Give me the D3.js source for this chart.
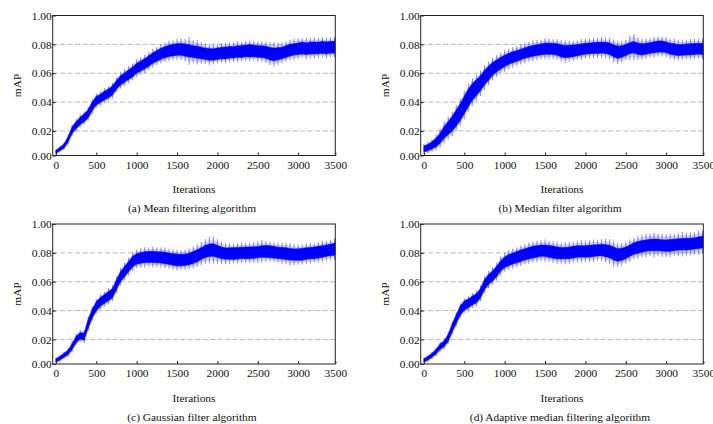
<!DOCTYPE html>
<html>
<head>
<meta charset="utf-8">
<script src="https://cdn.jsdelivr.net/npm/d3@7"></script>
<style>
body { margin: 0; background: #fff; }
text { font-family: "Liberation Serif", "Times New Roman", serif; font-size: 11.4px; fill: #111; }
</style>
</head>
<body>
<script>
// sample grid: every 50 iterations, 0..3500
var iterations = d3.range(0, 3501, 50);

var xTicks = [0, 500, 1000, 1500, 2000, 2500, 3000, 3500];
var yTicks = [0.003, 0.02, 0.04, 0.06, 0.08, 0.1];
var yTickLabels = ["0.00", "0.02", "0.04", "0.06", "0.08", "1.00"];
var gridValues = [0.02, 0.04, 0.06, 0.08];

// (a) mean filtering: centre of band, half width of dark core, half width of spikes
var meanMid = [0.0055,0.0075,0.0095,0.014,0.0205,0.024,0.027,0.029,0.032,0.037,
  0.041,0.0425,0.0445,0.046,0.048,0.052,0.055,0.057,0.059,0.061,
  0.0635,0.065,0.0665,0.0685,0.0705,0.072,0.0735,0.0745,0.0755,0.076,
  0.0765,0.0765,0.076,0.0755,0.075,0.0745,0.074,0.0735,0.073,0.073,
  0.0735,0.074,0.074,0.0745,0.0745,0.075,0.075,0.0755,0.0755,0.0755,
  0.075,0.075,0.0745,0.0735,0.073,0.0735,0.074,0.075,0.076,0.0765,
  0.077,0.0775,0.077,0.0775,0.0775,0.0775,0.078,0.0775,0.078,0.078,
  0.0785];
var meanCore = [0.0012,0.0012,0.0014,0.0018,0.0022,0.0024,0.0025,0.0027,0.0028,0.003,
  0.003,0.0028,0.003,0.003,0.0031,0.003,0.0032,0.0032,0.0033,0.0034,
  0.0034,0.0035,0.0035,0.0036,0.0036,0.0037,0.0038,0.0038,0.0039,0.004,
  0.004,0.0041,0.0042,0.0043,0.0041,0.0042,0.004,0.0039,0.004,0.004,
  0.0039,0.004,0.0041,0.004,0.0039,0.004,0.0041,0.004,0.0042,0.0041,
  0.004,0.0041,0.0042,0.0043,0.0044,0.0042,0.004,0.0041,0.004,0.0039,
  0.004,0.0041,0.004,0.0042,0.0041,0.004,0.0041,0.0042,0.004,0.0041,
  0.004];
var meanNoise = [0.0018,0.002,0.0025,0.0035,0.004,0.0042,0.0045,0.0045,0.0048,0.005,
  0.0048,0.005,0.0052,0.005,0.0055,0.0052,0.0056,0.0058,0.006,0.0058,
  0.0062,0.006,0.0064,0.0062,0.0066,0.0064,0.0068,0.0066,0.007,0.0068,
  0.0072,0.0075,0.0078,0.0095,0.008,0.0085,0.0075,0.007,0.0072,0.0068,
  0.0066,0.0068,0.007,0.0066,0.0068,0.0072,0.0068,0.007,0.0072,0.0068,
  0.007,0.0072,0.0075,0.008,0.0085,0.0078,0.0072,0.007,0.0072,0.0075,
  0.0072,0.0068,0.0075,0.007,0.0072,0.0068,0.007,0.0072,0.0068,0.007,
  0.0068];

// (b) median filter
var medianMid = [0.0075,0.0085,0.010,0.012,0.015,0.019,0.022,0.025,0.029,0.033,
  0.038,0.043,0.047,0.050,0.053,0.057,0.060,0.063,0.065,0.067,
  0.0685,0.070,0.071,0.072,0.073,0.074,0.0748,0.0755,0.076,0.0765,
  0.077,0.077,0.0768,0.0765,0.0755,0.075,0.0752,0.0755,0.076,0.0765,
  0.077,0.0772,0.0775,0.0775,0.0778,0.0775,0.077,0.0755,0.0745,0.075,
  0.076,0.0775,0.078,0.077,0.0765,0.077,0.0775,0.078,0.0785,0.0785,
  0.078,0.077,0.0765,0.076,0.0762,0.0765,0.0765,0.0768,0.077,0.0768,
  0.0768];
var medianCore = [0.002,0.0022,0.0025,0.003,0.0035,0.004,0.0045,0.005,0.0055,0.0058,
  0.006,0.006,0.0058,0.0055,0.0052,0.005,0.0048,0.0045,0.0042,0.004,
  0.004,0.0038,0.0038,0.0037,0.0037,0.0036,0.0037,0.0038,0.0037,0.0038,
  0.0039,0.0038,0.0039,0.004,0.0042,0.0043,0.0042,0.004,0.0039,0.0038,
  0.0038,0.0037,0.0038,0.0039,0.0038,0.0039,0.004,0.0042,0.0043,0.004,
  0.0039,0.0038,0.0039,0.004,0.0039,0.0038,0.0037,0.0038,0.0039,0.0038,
  0.0037,0.0038,0.0039,0.0038,0.0037,0.0038,0.0039,0.0038,0.0037,0.0038,
  0.0038];
var medianNoise = [0.0035,0.004,0.0045,0.0055,0.0065,0.0075,0.008,0.0085,0.009,0.0095,
  0.01,0.0098,0.0095,0.009,0.0088,0.0085,0.008,0.0078,0.0075,0.0072,
  0.0075,0.007,0.0072,0.0068,0.007,0.0072,0.0068,0.0072,0.007,0.0068,
  0.0072,0.007,0.0068,0.0072,0.0075,0.0078,0.0072,0.007,0.0068,0.0072,
  0.007,0.0068,0.0072,0.007,0.0074,0.0072,0.0075,0.0078,0.0082,0.0075,
  0.0072,0.0085,0.009,0.0078,0.0072,0.007,0.0068,0.0072,0.007,0.0068,
  0.007,0.0072,0.0075,0.0072,0.007,0.0068,0.0072,0.007,0.0068,0.007,
  0.0072];

// (c) gaussian filter
var gaussMid = [0.0055,0.007,0.009,0.011,0.015,0.020,0.0225,0.022,0.031,0.038,
  0.043,0.046,0.048,0.050,0.052,0.058,0.0635,0.067,0.0705,0.074,
  0.0758,0.0765,0.077,0.0772,0.0772,0.077,0.0768,0.0765,0.076,0.0755,
  0.075,0.075,0.0752,0.0758,0.0768,0.078,0.0795,0.081,0.0818,0.082,
  0.081,0.080,0.0795,0.0795,0.0795,0.0798,0.080,0.080,0.080,0.0802,
  0.0805,0.081,0.081,0.0808,0.0805,0.080,0.0798,0.0795,0.079,0.0788,
  0.0788,0.079,0.0795,0.0798,0.080,0.0805,0.081,0.0815,0.082,0.0825,
  0.083];
var gaussCore = [0.0012,0.0013,0.0014,0.0016,0.002,0.0022,0.0022,0.0025,0.003,0.003,
  0.0032,0.003,0.003,0.0032,0.0032,0.0033,0.0034,0.0035,0.0035,0.0036,
  0.0036,0.0037,0.0038,0.0038,0.0039,0.0038,0.0039,0.004,0.0039,0.004,
  0.0041,0.004,0.0039,0.004,0.0041,0.0042,0.0041,0.0042,0.0043,0.0044,
  0.0042,0.004,0.0039,0.004,0.0041,0.004,0.0039,0.004,0.0041,0.004,
  0.0039,0.004,0.0041,0.0042,0.004,0.0039,0.004,0.0041,0.004,0.0039,
  0.004,0.0041,0.004,0.0039,0.004,0.0041,0.004,0.0039,0.004,0.0041,
  0.004];
var gaussNoise = [0.002,0.0022,0.0025,0.003,0.0038,0.004,0.0042,0.0045,0.0048,0.005,
  0.005,0.0052,0.0052,0.0055,0.0055,0.0058,0.006,0.006,0.0062,0.0065,
  0.0065,0.0068,0.007,0.0066,0.0072,0.0068,0.007,0.0072,0.0068,0.007,
  0.0072,0.0068,0.007,0.0072,0.0075,0.0078,0.008,0.0085,0.009,0.0095,
  0.0085,0.0078,0.0072,0.007,0.0068,0.007,0.0072,0.0068,0.007,0.0072,
  0.0075,0.0078,0.0072,0.007,0.0068,0.007,0.0072,0.0075,0.0078,0.0072,
  0.007,0.0068,0.007,0.0072,0.0068,0.007,0.0072,0.0068,0.007,0.0072,
  0.007];

// (d) adaptive median filtering
var adaptMid = [0.0055,0.007,0.009,0.0115,0.015,0.017,0.021,0.028,0.034,0.040,
  0.0435,0.045,0.047,0.0485,0.052,0.058,0.0615,0.064,0.067,0.071,
  0.0735,0.075,0.076,0.077,0.078,0.079,0.0798,0.0805,0.081,0.0815,
  0.0815,0.081,0.0805,0.080,0.0798,0.0798,0.080,0.0805,0.081,0.081,
  0.081,0.0812,0.0815,0.0818,0.082,0.0815,0.081,0.0795,0.0785,0.079,
  0.080,0.0815,0.083,0.0838,0.0845,0.085,0.0855,0.0855,0.0855,0.0852,
  0.085,0.0852,0.0855,0.0858,0.086,0.086,0.0862,0.0865,0.087,0.0875,
  0.088];
var adaptCore = [0.0012,0.0013,0.0014,0.0016,0.0018,0.002,0.0024,0.0028,0.003,0.0032,
  0.0032,0.003,0.003,0.0031,0.0032,0.0034,0.0035,0.0035,0.0036,0.0036,
  0.0037,0.0038,0.0038,0.0039,0.004,0.0039,0.004,0.0041,0.004,0.0039,
  0.004,0.0041,0.0042,0.0041,0.004,0.0039,0.004,0.0041,0.004,0.0039,
  0.004,0.0041,0.004,0.0039,0.004,0.0042,0.0043,0.0045,0.0044,0.0042,
  0.004,0.0039,0.004,0.0041,0.004,0.0039,0.004,0.0041,0.004,0.0039,
  0.004,0.0041,0.004,0.0039,0.004,0.0041,0.004,0.0039,0.004,0.0041,
  0.004];
var adaptNoise = [0.002,0.0022,0.0025,0.003,0.0035,0.0038,0.0042,0.0045,0.0048,0.005,
  0.005,0.0052,0.0052,0.0055,0.0055,0.0058,0.006,0.006,0.0062,0.0065,
  0.0065,0.0068,0.007,0.0068,0.0072,0.007,0.0074,0.0072,0.0075,0.0072,
  0.0078,0.0072,0.0075,0.0078,0.0072,0.0075,0.0078,0.0072,0.0075,0.0078,
  0.0072,0.0075,0.0078,0.0072,0.0075,0.008,0.0085,0.009,0.0085,0.0078,
  0.0075,0.0078,0.0075,0.008,0.0078,0.0082,0.0078,0.0085,0.0078,0.008,
  0.0078,0.0082,0.0078,0.008,0.0085,0.0078,0.008,0.0078,0.0082,0.0078,
  0.008];

var panels = [
  {mid: meanMid, core: meanCore, noise: meanNoise, caption: "(a) Mean filtering algorithm", left: 52.7, top: 15.5},
  {mid: medianMid, core: medianCore, noise: medianNoise, caption: "(b) Median filter algorithm", left: 420.7, top: 15.5},
  {mid: gaussMid, core: gaussCore, noise: gaussNoise, caption: "(c) Gaussian filter algorithm", left: 52.7, top: 224},
  {mid: adaptMid, core: adaptCore, noise: adaptNoise, caption: "(d) Adaptive median filtering algorithm", left: 420.7, top: 224}
];

var width = 282.6, height = 140;

var svg = d3.select("body")
    .append("svg")
    .attr("width", 713)
    .attr("height", 424);

panels.forEach(function(p, n) {
    var g = svg.append("g")
        .attr("transform", "translate(" + p.left + "," + p.top + ")");

    var x = d3.scaleLinear().domain([-40, 3460]).range([0, width]).clamp(true);
    var y = d3.scaleLinear().domain([0.003, 0.1]).range([height, 0]);

    // dashed grid
    g.selectAll(".grid")
        .data(gridValues)
        .enter()
        .append("line")
        .attr("x1", 0)
        .attr("x2", width)
        .attr("y1", function(d){ return y(d); })
        .attr("y2", function(d){ return y(d); })
        .attr("stroke", "#b8b8b8")
        .attr("stroke-width", 1)
        .attr("stroke-dasharray", "5,2.5");

    g.append("clipPath")
        .attr("id", "clip" + n)
        .append("rect")
        .attr("width", width)
        .attr("height", height);

    var pts = iterations.map(function(it, i){
        return {it: it, mid: p.mid[i], core: p.core[i], noise: p.noise[i]};
    });

    var fringe = d3.area()
        .x(function(d){ return x(d.it); })
        .y0(function(d){ return y(d.mid - d.noise * 0.8); })
        .y1(function(d){ return y(d.mid + d.noise * 0.8); });

    var core = d3.area()
        .x(function(d){ return x(d.it); })
        .y0(function(d){ return y(d.mid - d.core); })
        .y1(function(d){ return y(d.mid + d.core); });

    var plot = g.append("g").attr("clip-path", "url(#clip" + n + ")");

    plot.append("path")
        .datum(pts)
        .attr("d", fringe)
        .attr("fill", "#8a8aff")
        .attr("fill-opacity", 0.35);

    // spikes of the noisy curve
    plot.selectAll(".spike")
        .data(pts)
        .enter()
        .append("line")
        .attr("x1", function(d){ return x(d.it); })
        .attr("x2", function(d){ return x(d.it); })
        .attr("y1", function(d){ return y(d.mid - d.noise); })
        .attr("y2", function(d){ return y(d.mid + d.noise); })
        .attr("stroke", "#3030ff")
        .attr("stroke-opacity", 0.6)
        .attr("stroke-width", 1);

    plot.append("path")
        .datum(pts)
        .attr("d", core)
        .attr("fill", "#0000ff")
        .attr("stroke", "#0000ff")
        .attr("stroke-width", 0.6);

    // axes with inward ticks
    var xAxis = g.append("g")
        .attr("transform", "translate(0," + height + ")")
        .call(d3.axisBottom(x).tickValues(xTicks).tickSize(-3).tickPadding(5).tickFormat(d3.format("d")));

    var yAxis = g.append("g")
        .call(d3.axisLeft(y).tickValues(yTicks).tickSize(-3).tickPadding(1)
            .tickFormat(function(d, i){ return yTickLabels[i]; }));

    [xAxis, yAxis].forEach(function(a){
        a.select(".domain").remove();
        a.selectAll("line").attr("stroke", "#222");
        a.selectAll("text")
            .style("font-family", "'Liberation Serif', 'Times New Roman', serif")
            .style("font-size", "11.4px")
            .attr("fill", "#111");
    });

    // frame
    g.append("rect")
        .attr("width", width)
        .attr("height", height)
        .attr("fill", "none")
        .attr("stroke", "#222")
        .attr("stroke-width", 1);

    g.append("text")
        .attr("transform", "translate(-35.5," + (height / 2) + ") rotate(-90)")
        .attr("text-anchor", "middle")
        .attr("dy", "0.35em")
        .text("mAP");

    g.append("text")
        .attr("x", width / 2)
        .attr("y", height + 37.5)
        .attr("text-anchor", "middle")
        .text("Iterations");

    g.append("text")
        .attr("x", width / 2 - 2)
        .attr("y", height + 56.5)
        .attr("text-anchor", "middle")
        .text(p.caption);
});
</script>
</body>
</html>
